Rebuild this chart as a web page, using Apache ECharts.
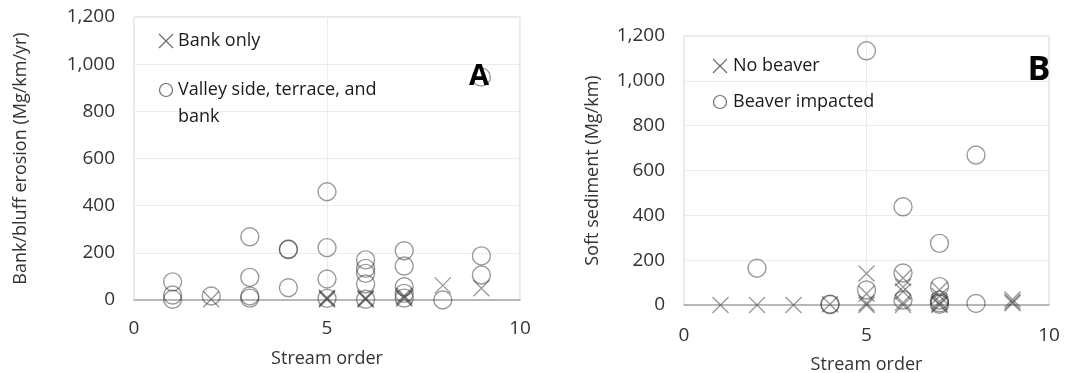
<!DOCTYPE html>
<html>
<head>
<meta charset="utf-8">
<script src="https://cdn.jsdelivr.net/npm/echarts@6/dist/echarts.min.js"></script>
<style>
html,body{margin:0;padding:0;background:#fff;}
#c{width:1080px;height:373px;}
</style>
</head>
<body>
<div id="c"></div>
<script>
// ---- Data ----
// Panel A: stream order vs bank/bluff erosion (Mg/km/yr)
var bankOnlyX = [2, 5, 5, 5, 6, 6, 6, 7, 7, 7, 8, 9];
var bankOnlyY = [3, 2, 6, 10, 2, 5, 8, 6, 12, 18, 62, 50];
var valleyX = [1, 1, 1, 2, 3, 3, 3, 3, 4, 4, 4, 5, 5, 5, 5, 6, 6, 6, 6, 6, 7, 7, 7, 7, 7, 8, 9, 9, 9];
var valleyY = [77, 21, 3, 17, 268, 96, 17, 8, 216, 214, 52, 459, 222, 89, 7, 170, 134, 113, 68, 3, 209, 144, 56, 28, 8, 0, 945, 187, 106];
// Panel B: stream order vs soft sediment (Mg/km)
var noBeaverX = [1, 2, 3, 4, 5, 5, 5, 5, 6, 6, 6, 6, 6, 7, 7, 7, 7, 7, 9, 9, 9];
var noBeaverY = [0, 0, 0, 3, 141, 50, 8, 0, 120, 80, 60, 10, 0, 67, 40, 15, 5, 0, 25, 15, 8];
var beaverX = [2, 4, 4, 5, 5, 6, 6, 6, 7, 7, 7, 7, 7, 8, 8];
var beaverY = [164, 4, 2, 1134, 67, 438, 143, 22, 275, 82, 22, 10, 3, 669, 7];
// Axis ticks
var yTicks = [0, 200, 400, 600, 800, 1000, 1200];
var xTicks = [0, 5, 10];
var legendA = ['Bank only', 'Valley side, terrace, and', 'bank'];
var legendB = ['No beaver', 'Beaver impacted'];

function pairs(xs, ys) { return xs.map(function (x, i) { return [x, ys[i]]; }); }

var FONT = 'Open Sans';
var TXT = '#333';
var MARK = 'rgba(50,50,50,0.62)';
var XPATH = 'path://M0,0L16,16M16,0L0,16';

function xAxis(idx, margin, gap) {
  return {
    type: 'value', gridIndex: idx, min: xTicks[0], max: xTicks[xTicks.length - 1], interval: 5,
    name: 'Stream order', nameLocation: 'middle', nameGap: gap,
    nameTextStyle: { fontFamily: FONT, fontSize: 18, color: TXT },
    axisLine: { show: true, onZero: false, lineStyle: { color: '#a6a6a6', width: 1.5 } },
    axisTick: { show: false },
    axisLabel: { fontFamily: FONT, fontSize: 19, color: TXT, margin: margin },
    splitLine: { show: true, lineStyle: { color: '#ececec', width: 1 } }
  };
}
function yAxis(idx, name, gap) {
  return {
    type: 'value', gridIndex: idx, min: yTicks[0], max: yTicks[yTicks.length - 1], interval: 200,
    name: name, nameLocation: 'middle', nameGap: gap,
    nameTextStyle: { fontFamily: FONT, fontSize: 18, color: TXT },
    axisLine: { show: false }, axisTick: { show: false },
    axisLabel: { fontFamily: FONT, fontSize: 19, color: TXT, margin: 19,
      formatter: function (v) { return v.toLocaleString('en-US'); } },
    splitLine: { show: true, lineStyle: { color: '#ececec', width: 1 } }
  };
}
function circleSeries(name, xi, data) {
  return { name: name, type: 'scatter', xAxisIndex: xi, yAxisIndex: xi, data: data,
    symbol: 'circle', symbolSize: 18,
    itemStyle: { color: 'rgba(0,0,0,0)', borderColor: MARK, borderWidth: 1.4 } };
}
function crossSeries(name, xi, data) {
  return { name: name, type: 'scatter', xAxisIndex: xi, yAxisIndex: xi, data: data,
    symbol: XPATH, symbolSize: 16,
    itemStyle: { color: 'rgba(0,0,0,0)', borderColor: MARK, borderWidth: 1.4 } };
}

var chart = echarts.init(document.getElementById('c'), null, { renderer: 'canvas' });
var iconStyle = { stroke: '#6e6e6e', lineWidth: 1.2, fill: 'none' };
var legTxt = { fontFamily: FONT, fontSize: 18, fill: '#1a1a1a', verticalAlign: 'middle' };
chart.setOption({
  animation: false,
  backgroundColor: '#fff',
  grid: [
    { left: 134, top: 17, width: 386, height: 283, outerBoundsMode: 'none', containLabel: false, show: true, borderColor: '#d0d0d0', borderWidth: 1, backgroundColor: 'transparent' },
    { left: 684, top: 36, width: 365, height: 269, outerBoundsMode: 'none', containLabel: false, show: true, borderColor: '#d0d0d0', borderWidth: 1, backgroundColor: 'transparent' }
  ],
  xAxis: [xAxis(0, 19, 50), xAxis(1, 21, 51)],
  yAxis: [yAxis(0, 'Bank/bluff erosion (Mg/km/yr)', 104), yAxis(1, 'Soft sediment (Mg/km)', 82)],
  series: [
    crossSeries(legendA[0], 0, pairs(bankOnlyX, bankOnlyY)),
    circleSeries(legendA[1], 0, pairs(valleyX, valleyY)),
    crossSeries(legendB[0], 1, pairs(noBeaverX, noBeaverY)),
    circleSeries(legendB[1], 1, pairs(beaverX, beaverY))
  ],
  graphic: [
    // Panel A legend
    { type: 'line', shape: { x1: 159, y1: 34, x2: 173, y2: 48 }, style: iconStyle, z: 10 },
    { type: 'line', shape: { x1: 173, y1: 34, x2: 159, y2: 48 }, style: iconStyle, z: 10 },
    { type: 'text', x: 178, y: 41, style: Object.assign({ text: legendA[0] }, legTxt), z: 10 },
    { type: 'circle', shape: { cx: 166, cy: 90, r: 6.5 }, style: iconStyle, z: 10 },
    { type: 'text', x: 178, y: 90, style: Object.assign({ text: legendA[1] }, legTxt), z: 10 },
    { type: 'text', x: 178, y: 117, style: Object.assign({ text: legendA[2] }, legTxt), z: 10 },
    // Panel B legend
    { type: 'line', shape: { x1: 713, y1: 59, x2: 727, y2: 73 }, style: iconStyle, z: 10 },
    { type: 'line', shape: { x1: 727, y1: 59, x2: 713, y2: 73 }, style: iconStyle, z: 10 },
    { type: 'text', x: 733, y: 66, style: Object.assign({ text: legendB[0] }, legTxt), z: 10 },
    { type: 'circle', shape: { cx: 720, cy: 102, r: 6.5 }, style: iconStyle, z: 10 },
    { type: 'text', x: 733, y: 102, style: Object.assign({ text: legendB[1] }, legTxt), z: 10 },
    // Panel letters
    { type: 'text', x: 479, y: 77, style: { text: 'A', fontFamily: FONT, fontWeight: 'bold', fontSize: 29, fill: '#000', align: 'center', verticalAlign: 'middle' }, z: 20 },
    { type: 'text', x: 1039, y: 70, style: { text: 'B', fontFamily: FONT, fontWeight: 'bold', fontSize: 34, fill: '#000', align: 'center', verticalAlign: 'middle' }, z: 20 }
  ]
});
</script>
</body>
</html>
